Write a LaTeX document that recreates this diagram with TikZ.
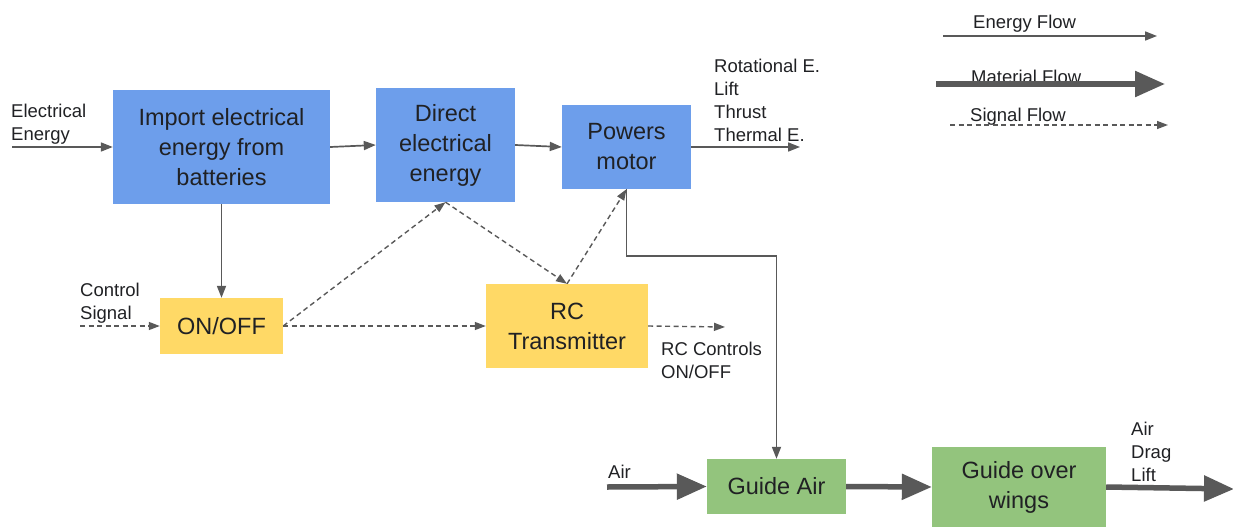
\documentclass[tikz,border=0pt]{standalone}
\usepackage{fontspec}
\setmainfont{Liberation Sans}
\usetikzlibrary{arrows.meta}
\definecolor{arr}{HTML}{595959}
\definecolor{bluebox}{HTML}{6D9EEB}
\definecolor{yellowbox}{HTML}{FFD966}
\definecolor{greenbox}{HTML}{93C47D}
\definecolor{txt}{HTML}{202124}
\tikzset{
  x=1pt, y=-1pt,
  box/.style={inner sep=0pt, align=center, text=txt, font=\fontsize{23.5}{30}\selectfont},
  bbox/.style={box, fill=bluebox},
  ybox/.style={box, fill=yellowbox},
  gbox/.style={box, fill=greenbox},
  lbl/.style={inner sep=0pt, anchor=north west, align=left, text=txt, font=\fontsize{18.5}{23}\selectfont},
  energy/.style={draw=arr, line width=1.7pt, -{Triangle[length=12pt,width=9pt]}, arr},
  signal/.style={draw=arr, line width=1.4pt, dash pattern=on 5pt off 3.5pt, -{Triangle[length=11pt,width=8pt]}, arr},
  material/.style={draw=arr, line width=5.5pt, -{Triangle[length=30pt,width=25pt]}, arr},
}
\begin{document}
\begin{tikzpicture}
\useasboundingbox (0,0) rectangle (1233,527);
% boxes
\node[bbox, minimum width=217pt, minimum height=114pt] (imp) at (221.5,147) {Import electrical\\energy from\\batteries};
\node[bbox, minimum width=139pt, minimum height=114pt] (dir) at (445.5,145) {Direct\\electrical\\energy};
\node[bbox, minimum width=129pt, minimum height=84pt] (pow) at (626.5,147) {Powers\\motor};
\node[ybox, minimum width=123pt, minimum height=56pt] (onoff) at (221.5,326) {ON/OFF};
\node[ybox, minimum width=162pt, minimum height=84pt] (rc) at (567,326) {RC\\Transmitter};
\node[gbox, minimum width=139pt, minimum height=55pt] (gair) at (776.5,486.5) {Guide Air};
\node[gbox, minimum width=174pt, minimum height=80pt] (gwing) at (1019,487) {Guide over\\wings};

% free ends
\coordinate (eIn) at (12,147);
\coordinate (powOut) at (800,147);
\coordinate (ctrlIn) at (80,326);
\coordinate (rcOut) at (725,327);
\coordinate (airIn) at (607,487);
\coordinate (wingOut) at (1234,489);
\coordinate (bend) at (626.5,256);

% labels
\node[lbl] (lEl) at (11,101) {\strut Electrical\\Energy};
\node[lbl] (lRot) at (714,56) {\strut Rotational E.\\Lift\\Thrust\\Thermal E.};
\node[lbl] (lCtrl) at (80,280) {\strut Control\\Signal};
\node[lbl] (lRc) at (661,339) {\strut RC Controls\\ON/OFF};
\node[lbl] (lAir) at (608,462) {\strut Air};
\node[lbl] (lOut) at (1131,419) {\strut Air\\Drag\\Lift};

% energy flows
\draw[energy] (eIn) -- (imp.west);
\draw[energy] (imp.east) -- (dir.west);
\draw[energy] (dir.east) -- (pow.west);
\draw[energy] (pow.east) -- (powOut);
\draw[energy] (imp.south) -- (onoff.north);
\draw[energy] (pow.south) -- (bend) -| (gair.north);

% signal flows
\draw[signal] (ctrlIn) -- (onoff.west);
\draw[signal] (onoff.east) -- (dir.south);
\draw[signal] (onoff.east) -- (rc.west);
\draw[signal] (dir.south) -- (rc.north);
\draw[signal] (rc.north) -- (pow.south);
\draw[signal] (rc.east) -- (rcOut);

% material flows
\draw[material] (airIn) -- (gair.west);
\draw[material] (gair.east) -- (gwing.west);
\draw[material] (gwing.east) -- (wingOut);

% legend
\node[lbl] (tEn) at (973,12) {\strut Energy Flow};
\coordinate (le1) at (943,36); \coordinate (le2) at (1157,36);
\draw[energy] (le1) -- (le2);
\node[lbl] (tMat) at (971,67) {\strut Material Flow};
\coordinate (lm1) at (936,84); \coordinate (lm2) at (1165,84);
\draw[material] (lm1) -- (lm2);
\node[lbl] (tSig) at (970,105) {\strut Signal Flow};
\coordinate (ls1) at (950,125); \coordinate (ls2) at (1168,125);
\draw[signal] (ls1) -- (ls2);
\end{tikzpicture}
\end{document}
